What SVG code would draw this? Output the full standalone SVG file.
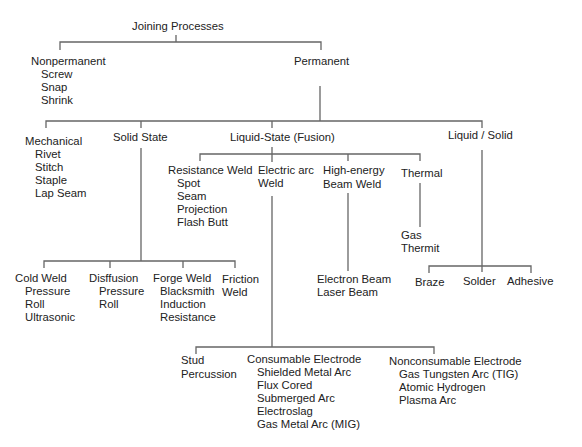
<svg xmlns="http://www.w3.org/2000/svg" width="582" height="447" viewBox="0 0 582 447">
<style>
text{font-family:"Liberation Sans",Arial,sans-serif;font-size:11.3px;fill:#222}
.c{fill:none;stroke:#666;stroke-width:1.3}
</style>
<rect width="582" height="447" fill="#fff"/>
<g id="connectors">
<path class="c" d="M176 35V42M60 50V42H321V50"/>
<path class="c" d="M320 86V121M46 128V121H482V128M141 121V128M272 121V128"/>
<path class="c" d="M141 148V261M44 268V261H235V268M110 261V268M183 261V268"/>
<path class="c" d="M272 147V162M200 161V154H420V161M348 154V161"/>
<path class="c" d="M272 196V347M196 354V347H434V354"/>
<path class="c" d="M348 193V271"/>
<path class="c" d="M420 183V227"/>
<path class="c" d="M482 150V272M429 273V266H531V273"/>
</g>
<g id="root"><text x="132" y="30">Joining Processes</text></g>
<g id="nonpermanent"><text x="31" y="65">Nonpermanent</text><text x="41" y="78">Screw</text><text x="41" y="91">Snap</text><text x="41" y="104">Shrink</text></g>
<g id="permanent"><text x="294" y="65">Permanent</text></g>
<g id="mechanical"><text x="25" y="145">Mechanical</text><text x="35" y="158">Rivet</text><text x="35" y="171">Stitch</text><text x="35" y="184">Staple</text><text x="35" y="197">Lap Seam</text></g>
<g id="solid-state"><text x="113" y="141">Solid State</text></g>
<g id="liquid-state"><text x="230" y="141">Liquid-State (Fusion)</text></g>
<g id="liquid-solid"><text x="448" y="139">Liquid / Solid</text></g>
<g id="resistance-weld"><text x="168" y="174">Resistance Weld</text><text x="177" y="187">Spot</text><text x="177" y="200">Seam</text><text x="177" y="213">Projection</text><text x="177" y="226">Flash Butt</text></g>
<g id="electric-arc"><text x="258" y="174">Electric arc</text><text x="258" y="187">Weld</text></g>
<g id="high-energy"><text x="323" y="174">High-energy</text><text x="323" y="188">Beam Weld</text></g>
<g id="thermal"><text x="401" y="177">Thermal</text></g>
<g id="gas-thermit"><text x="401" y="239">Gas</text><text x="401" y="252">Thermit</text></g>
<g id="beams"><text x="317" y="283">Electron Beam</text><text x="317" y="296">Laser Beam</text></g>
<g id="braze"><text x="415" y="286">Braze</text></g>
<g id="solder"><text x="463" y="285">Solder</text></g>
<g id="adhesive"><text x="507" y="285">Adhesive</text></g>
<g id="cold-weld"><text x="15" y="282">Cold Weld</text><text x="25" y="295">Pressure</text><text x="25" y="308">Roll</text><text x="25" y="321">Ultrasonic</text></g>
<g id="diffusion"><text x="89" y="282">Disffusion</text><text x="99" y="295">Pressure</text><text x="99" y="308">Roll</text></g>
<g id="forge-weld"><text x="153" y="282">Forge Weld</text><text x="160" y="295">Blacksmith</text><text x="160" y="308">Induction</text><text x="160" y="321">Resistance</text></g>
<g id="friction-weld"><text x="222" y="283">Friction</text><text x="222" y="296">Weld</text></g>
<g id="stud"><text x="181" y="364">Stud</text><text x="181" y="378">Percussion</text></g>
<g id="consumable"><text x="247" y="363">Consumable Electrode</text><text x="257" y="376">Shielded Metal Arc</text><text x="257" y="389">Flux Cored</text><text x="257" y="402">Submerged Arc</text><text x="257" y="415">Electroslag</text><text x="257" y="428">Gas Metal Arc (MIG)</text></g>
<g id="nonconsumable"><text x="389" y="365">Nonconsumable Electrode</text><text x="399" y="378">Gas Tungsten Arc (TIG)</text><text x="399" y="391">Atomic Hydrogen</text><text x="399" y="404">Plasma Arc</text></g>
</svg>
